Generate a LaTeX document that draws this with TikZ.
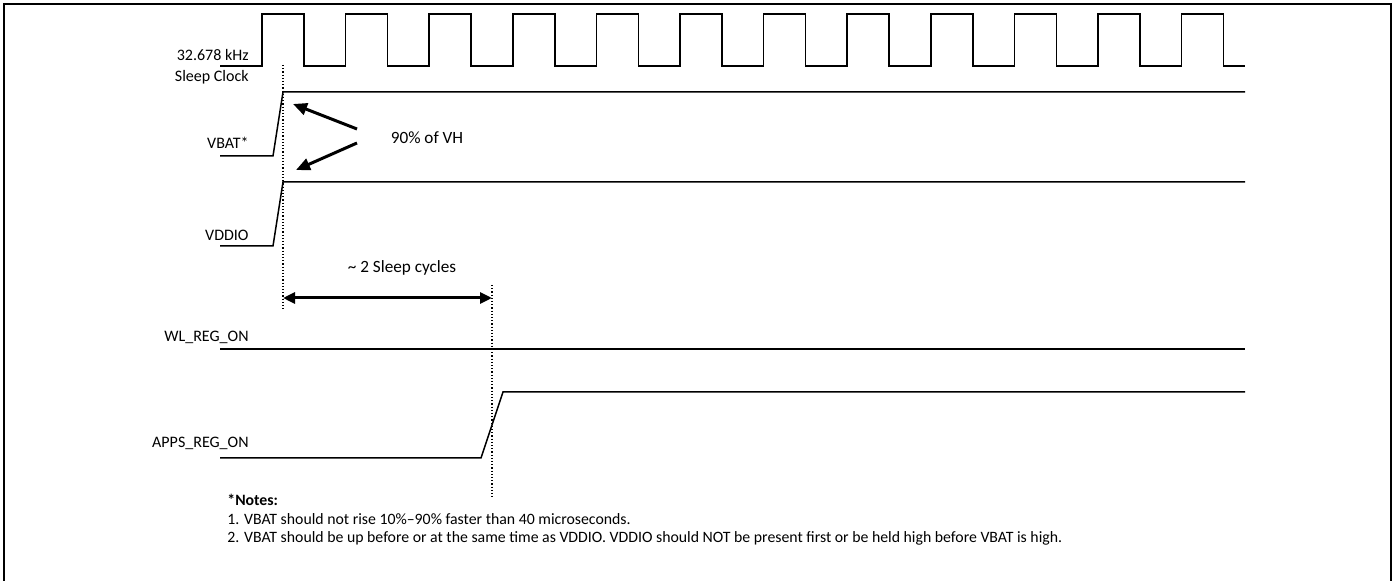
\documentclass[tikz,border=0pt]{standalone}
\usepackage{fontspec}
\setmainfont{Carlito}
\usetikzlibrary{arrows.meta}
\tikzset{
  signal/.style={line width=0.75pt},
  marker/.style={densely dotted, line width=0.6pt},
  siglabel/.style={anchor=east, inner sep=0pt, font=\fontsize{8}{9}\selectfont},
  notetext/.style={anchor=west, inner sep=0pt, font=\fontsize{7.9}{9}\selectfont},
  callout/.style={line width=1.5pt, -{Triangle[length=7pt,width=6pt]}},
  span/.style={line width=1.5pt, {Triangle[length=6pt,width=5.5pt]}-{Triangle[length=6pt,width=5.5pt]}},
}
\begin{document}
\begin{tikzpicture}[x=0.5pt,y=-0.5pt]
    \useasboundingbox (0,0) rectangle (1395,581);
    % frame
    \draw[line width=1pt] (4,600) -- (4,4) -- (1391,4) -- (1391,600);
    % sleep clock
    \draw[signal] (220,66) \foreach \i in {0,...,11} {
        -- ({262+83.6*\i},66) -- ({262+83.6*\i},14) -- ({304+83.6*\i},14) -- ({304+83.6*\i},66)
    } -- (1245,66);
    \node[siglabel] (clkfreq) at (249,55) {32.678 kHz};
    \node[siglabel] (clkname) at (249,77) {Sleep Clock};
    % VBAT and VDDIO
    \draw[signal] (220,156) -- (273,156) -- (283,92) -- (1245,92);
    \node[siglabel] (vbat) at (249,143) {VBAT*};
    \draw[signal] (220,246) -- (273,246) -- (283,182) -- (1245,182);
    \node[siglabel] (vddio) at (249,235) {VDDIO};
    % 90% of VH
    \node[inner sep=0pt, font=\fontsize{8.6}{10}\selectfont] (vh) at (427,138) {90\% of VH};
    \coordinate (vbatpt) at (293,104);
    \coordinate (vddiopt) at (296,170);
    \draw[callout] (357,129) -- (vbatpt);
    \draw[callout] (357,143) -- (vddiopt);
    % sleep cycles
    \draw[marker] (283,65) -- (283,310);
    \draw[marker] (492,285) -- (492,497);
    \coordinate (cyclestart) at (283,298);
    \coordinate (cycleend) at (492,298);
    \draw[span] (cyclestart) -- (cycleend);
    \node[inner sep=0pt, font=\fontsize{8.6}{10}\selectfont] (cycles) at (402,268) {\textasciitilde{} 2 Sleep cycles};
    % WL_REG_ON and APPS_REG_ON
    \draw[signal] (220,349) -- (1245,349);
    \node[siglabel] (wlreg) at (249,337) {WL\_REG\_ON};
    \draw[signal] (220,458) -- (481,458) -- (503,392) -- (1245,392);
    \node[siglabel] (appsreg) at (249,443) {APPS\_REG\_ON};
    % notes
    \node[notetext] (notehead) at (227,500) {\textbf{*Notes:}};
    \node[notetext] (noteone) at (227,519) {1. VBAT should not rise 10\%--90\% faster than 40 microseconds.};
    \node[notetext] (notetwo) at (227,538) {2. VBAT should be up before or at the same time as VDDIO. VDDIO should NOT be present first or be held high before VBAT is high.};
\end{tikzpicture}
\end{document}
